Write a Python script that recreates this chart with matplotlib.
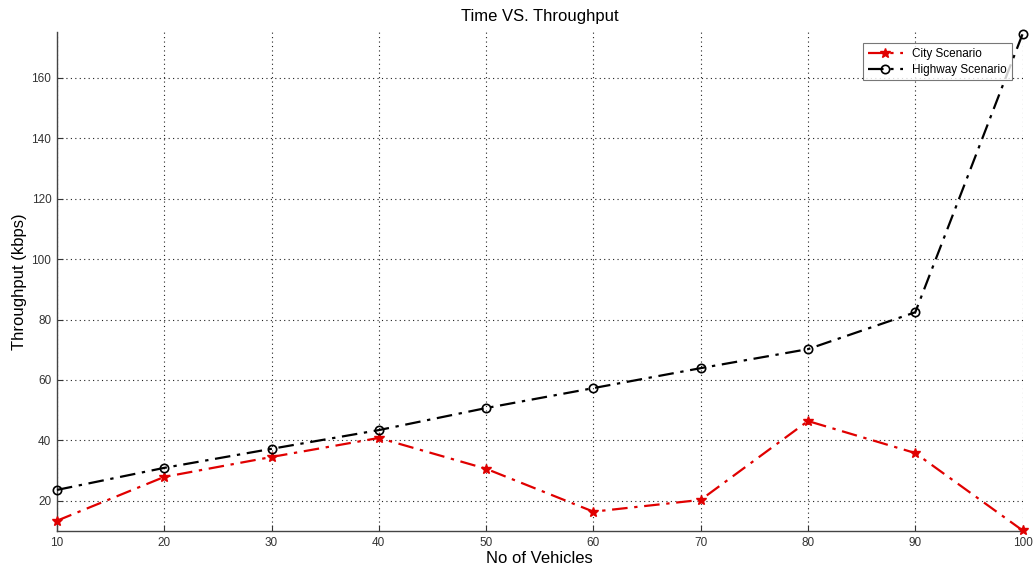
import matplotlib
matplotlib.use("Agg")
import matplotlib.pyplot as plt

plt.rcParams['font.family'] = ['Liberation Sans', 'DejaVu Sans']

vehicles = [10, 20, 30, 40, 50, 60, 70, 80, 90, 100]
city = [13.4, 27.9, 34.5, 40.8, 30.6, 16.4, 20.3, 46.4, 35.8, 10.2]
highway = [23.6, 30.9, 37.2, 43.4, 50.7, 57.3, 63.9, 70.2, 82.4, 174.5]
xticks = [10, 20, 30, 40, 50, 60, 70, 80, 90, 100]
yticks = [20, 40, 60, 80, 100, 120, 140, 160]

fig = plt.figure(figsize=(10.35, 5.75), dpi=100)
ax = fig.add_axes([0.055, 0.0765, 0.933, 0.867])

dash = (0, (7, 3, 1.5, 3))
l1, = ax.plot(vehicles, city, color='#e00000', linestyle=dash, linewidth=1.6,
              marker='*', markersize=7, markerfacecolor='#e00000', markeredgecolor='#e00000',
              label='City Scenario', clip_on=False, zorder=3)
l2, = ax.plot(vehicles, highway, color='black', linestyle=dash, linewidth=1.6,
              marker='o', markersize=6, markerfacecolor='none', markeredgecolor='black',
              markeredgewidth=1.2, label='Highway Scenario', clip_on=False, zorder=3)

ax.set_xlim(10, 100)
ax.set_ylim(10, 175)
ax.set_xticks(xticks)
ax.set_yticks(yticks)
ax.tick_params(direction='in', length=4, labelsize=8.5, colors='#333333', pad=4)
ax.grid(True, linestyle=(0, (1, 3)), color='#222222', linewidth=0.8)
for s in ['top', 'right']:
    ax.spines[s].set_visible(False)
for s in ['left', 'bottom']:
    ax.spines[s].set_color('#444444')
    ax.spines[s].set_linewidth(1.0)

ax.set_title('Time VS. Throughput', fontsize=12, pad=8)
ax.set_xlabel('No of Vehicles', fontsize=12, labelpad=2)
ax.set_ylabel('Throughput (kbps)', fontsize=12, labelpad=3)

leg = ax.legend(loc='upper right', bbox_to_anchor=(0.995, 0.99), fontsize=8.5,
                frameon=True, fancybox=False, edgecolor='#555555',
                borderpad=0.4, handlelength=3, labelspacing=0.3)
leg.get_frame().set_linewidth(0.8)

fig.savefig('out.png', dpi=100)
